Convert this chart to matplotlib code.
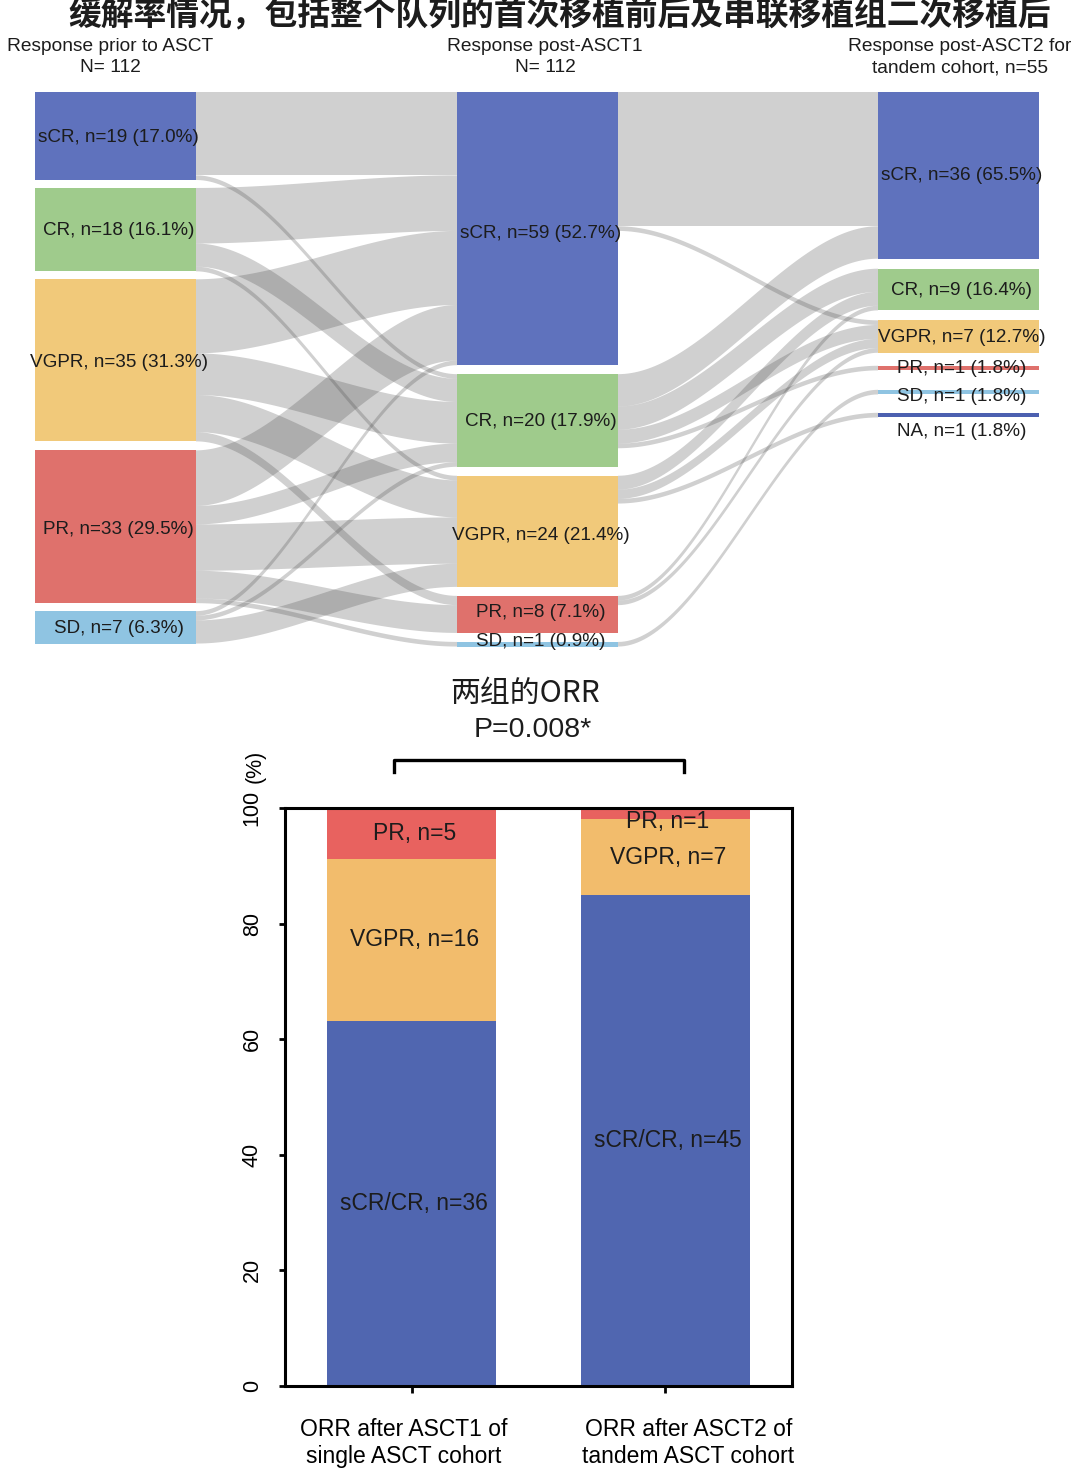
import numpy as np
import matplotlib
matplotlib.use('Agg')
import matplotlib.pyplot as plt
import matplotlib.transforms as mtrans
from matplotlib.patches import Polygon, Rectangle

plt.rcParams['font.family'] = ['Liberation Sans', 'Noto Sans CJK SC', 'DejaVu Sans']

##############################################
## data
##############################################
title = '缓解率情况，包括整个队列的首次移植前后及串联移植组二次移植后'
col_titles = ['Response prior to ASCT\nN= 112',
              'Response post-ASCT1\nN= 112',
              'Response post-ASCT2 for\ntandem cohort, n=55']

cats_pre = ['sCR', 'CR', 'VGPR', 'PR', 'SD']
n_pre = [19, 18, 35, 33, 7]
cats_post1 = ['sCR', 'CR', 'VGPR', 'PR', 'SD']
n_post1 = [59, 20, 24, 8, 1]
cats_post2 = ['sCR', 'CR', 'VGPR', 'PR', 'SD', 'NA']
n_post2 = [36, 9, 7, 1, 1, 1]

# rows = source node, cols = target node
flow_pre_post1 = [
    [18, 1, 0, 0, 0],
    [12, 5, 1, 0, 0],
    [16, 9, 8, 2, 0],
    [12, 4, 10, 6, 1],
    [1, 1, 5, 0, 0],
]
flow_post1_post2 = [
    [29, 0, 1, 0, 0, 0],
    [7, 5, 3, 1, 0, 0],
    [0, 3, 2, 0, 0, 1],
    [0, 1, 1, 0, 0, 0],
    [0, 0, 0, 0, 1, 0],
]

orr_title = '两组的ORR'
p_text = 'P=0.008*'
bar_groups = ['ORR after ASCT1 of\nsingle ASCT cohort',
              'ORR after ASCT2 of\ntandem ASCT cohort']
bar_cats = ['sCR/CR', 'VGPR', 'PR']
bar_n = [[36, 16, 5], [45, 7, 1]]

##############################################
## style
##############################################
node_col = {'sCR': '#5f72bd', 'CR': '#9fcb8c', 'VGPR': '#f1c97a',
            'PR': '#df716c', 'SD': '#8fc4e2', 'NA': '#4c60b0'}
bar_colors = ['#5066b0', '#f2bc6c', '#e8625f']
col_x = [35, 457, 878]
node_w = 161
top_y = 92
px = 4.63                      # pixels per patient
gaps = [[8, 8, 9, 8], [9, 9, 9, 9], [10, 10, 13, 19.4, 18.4]]
label_dy = [[2, 1, 2, 3, 1], [5, 1, 4, -2, -3], [0, 1, 1, 0, 4, 16]]


def pct(n, tot):
    return '%.1f' % (int(n * 1000.0 / tot + 0.5) / 10.0)


def layout(counts, g):
    tops = []
    y = top_y
    for i, c in enumerate(counts):
        tops.append(y)
        y += c * px + (g[i] if i < len(g) else 0)
    return tops


fig = plt.figure(figsize=(10.8, 14.78), dpi=100)

##############################################
## sankey
##############################################
ax = fig.add_axes([0, 1 - 662 / 1478, 1, 662 / 1478])
ax.set_xlim(0, 1080)
ax.set_ylim(662, 0)
ax.axis('off')

columns = [(cats_pre, n_pre), (cats_post1, n_post1), (cats_post2, n_post2)]
tops = [layout(c[1], gaps[k]) for k, c in enumerate(columns)]


def ribbon(x0, x1, a0, a1, b0, b1):
    xs = np.linspace(x0, x1, 80)
    t = (xs - x0) / (x1 - x0)
    s = t * t * (3 - 2 * t)
    up = a0 + (b0 - a0) * s
    lo = a1 + (b1 - a1) * s
    pts = np.vstack([np.column_stack([xs, up]),
                     np.column_stack([xs[::-1], lo[::-1]])])
    ax.add_patch(Polygon(pts, closed=True, facecolor='#4a4a4a',
                         alpha=0.26, edgecolor='none'))


for k, flows in enumerate([flow_pre_post1, flow_post1_post2]):
    x0 = col_x[k] + node_w
    x1 = col_x[k + 1]
    src_off = list(tops[k])
    dst_off = list(tops[k + 1])
    for i, row in enumerate(flows):
        for j, n in enumerate(row):
            if n == 0:
                continue
            h = n * px
            ribbon(x0, x1, src_off[i], src_off[i] + h, dst_off[j], dst_off[j] + h)
            src_off[i] += h
            dst_off[j] += h

for k, (cats, counts) in enumerate(columns):
    tot = sum(counts)
    for i, (c, n) in enumerate(zip(cats, counts)):
        y = tops[k][i]
        h = n * px
        ax.add_patch(Rectangle((col_x[k], y), node_w, h, facecolor=node_col[c],
                               edgecolor='none'))
        ax.text(col_x[k] + node_w / 2 + 3, y + h / 2 + label_dy[k][i],
                '%s, n=%d (%s%%)' % (c, n, pct(n, tot)),
                ha='center', va='center', fontsize=13.6, color='#1c1c1c')

header_x = [110, 545, 960]
for k, t in enumerate(col_titles):
    ax.text(header_x[k], 57, t, ha='center', va='center', fontsize=13.8,
            linespacing=1.35, color='#1c1c1c')

ax.text(560, 15, title, ha='center', va='center', fontsize=23.6,
        weight='bold', family=['Noto Sans CJK SC', 'DejaVu Sans'], color='#1c1c1c')

##############################################
## stacked bars
##############################################
bx = fig.add_axes([285 / 1080, 92 / 1478, 507 / 1080, 578 / 1478])
x = np.arange(len(bar_groups))
bottoms = np.zeros(len(bar_groups))
for j, cat in enumerate(bar_cats):
    vals = np.array([g[j] * 100.0 / sum(g) for g in bar_n])
    bx.bar(x, vals, 0.665, bottom=bottoms, color=bar_colors[j], edgecolor='none')
    for i in range(len(bar_groups)):
        yc = min(bottoms[i] + vals[i] / 2, 97.6)
        bx.text(x[i] + 0.01, yc, '%s, n=%d' % (cat, bar_n[i][j]), ha='center',
                va='center', fontsize=16.5, color='#1c1c1c')
    bottoms += vals

bx.set_xlim(-0.5, 1.5)
bx.set_ylim(0, 100)
bx.set_yticks([0, 20, 40, 60, 80, 100])
bx.set_yticklabels(['0', '20', '40', '60', '80', '100'], rotation=90, va='center')
bx.set_xticks(x)
bx.set_xticklabels(bar_groups, fontsize=16.5, linespacing=1.25)
bx.tick_params(axis='y', labelsize=15.5, length=4, width=2, pad=12)
bx.tick_params(axis='x', length=5, width=2, pad=18)
for sp in bx.spines.values():
    sp.set_linewidth(2.2)

# reference labels sit a little off their ticks
shifts = [-8, 23]
for lab, dx in zip(bx.get_xticklabels(), shifts):
    lab.set_transform(lab.get_transform() +
                      mtrans.ScaledTranslation(dx / 100.0, 0, fig.dpi_scale_trans))

bx.annotate('(%)', xy=(-0.059, 100), xycoords=bx.get_yaxis_transform(),
            xytext=(0, 18), textcoords='offset points', rotation=90,
            ha='center', va='bottom', fontsize=15.5)

bx.plot([-0.07, -0.07, 1.075, 1.075], [106.2, 108.3, 108.3, 106.2],
        color='k', lw=2.4, clip_on=False)
fig.text(525 / 1080, 1 - 693 / 1478, orr_title, ha='center', va='center',
         fontsize=21.5, family=['Noto Sans CJK SC', 'DejaVu Sans'], color='#1c1c1c')
fig.text(533 / 1080, 1 - 730 / 1478, p_text, ha='center', va='center',
         fontsize=20.5, color='#1c1c1c')

fig.savefig('out.png', dpi=100)
